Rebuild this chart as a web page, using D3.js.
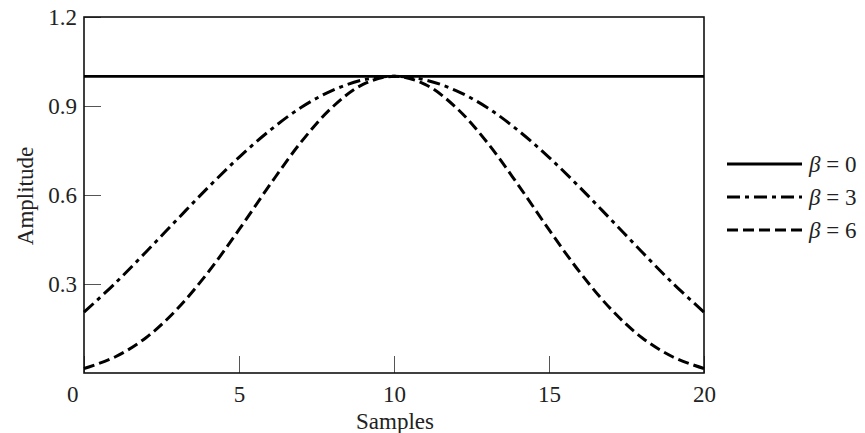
<!DOCTYPE html>
<html>
<head>
<meta charset="utf-8">
<script src="https://cdn.jsdelivr.net/npm/d3@7"></script>
<style>
  body { margin: 0; background: #fff; }
  svg text { font-family: "Liberation Serif", "DejaVu Serif", serif; fill: #222; }
</style>
</head>
<body>
<svg width="865" height="433"></svg>
<script>
// values, one per sample
let samples = d3.range(0, 21);
let beta0 = [1, 1, 1, 1, 1, 1, 1, 1, 1, 1, 1, 1, 1, 1, 1, 1, 1, 1, 1, 1, 1];
let beta3 = [0.205, 0.302, 0.408, 0.517, 0.625, 0.727, 0.818, 0.895, 0.952, 0.988, 1,
  0.988, 0.952, 0.895, 0.818, 0.727, 0.625, 0.517, 0.408, 0.302, 0.205];
let beta6 = [0.015, 0.054, 0.119, 0.215, 0.339, 0.483, 0.635, 0.778, 0.895, 0.973, 1,
  0.973, 0.895, 0.778, 0.635, 0.483, 0.339, 0.215, 0.119, 0.054, 0.015];
let xTicks = [0, 5, 10, 15, 20];
let yTicks = [0.3, 0.6, 0.9, 1.2];
let seriesNames = ["β = 0", "β = 3", "β = 6"];

let series = [
  {name: seriesNames[0], values: beta0, dash: null, width: 2.8},
  {name: seriesNames[1], values: beta3, dash: "13,5,4,5", width: 3},
  {name: seriesNames[2], values: beta6, dash: "11,5", width: 3}
];

let plotLeft = 84, plotRight = 704, plotTop = 17, plotBottom = 373;
let fontSize = "23px";
let svg = d3.select("svg");

let xScale = d3.scaleLinear().domain([0, 20]).range([plotLeft, plotRight]);
let yScale = d3.scaleLinear().domain([0, 1.2]).range([plotBottom, plotTop]);

// axes, ticks pointing inward
let xAxis = svg.append("g")
  .attr("transform", `translate(0,${plotBottom})`)
  .call(d3.axisBottom(xScale).tickValues(xTicks).tickSize(-17).tickPadding(8));
let yAxis = svg.append("g")
  .attr("transform", `translate(${plotLeft},0)`)
  .call(d3.axisLeft(yScale).tickValues(yTicks).tickFormat(d3.format(".1f")).tickSize(-17).tickPadding(7));

[xAxis, yAxis].forEach(a => {
  a.select(".domain").remove();
  a.selectAll("line").attr("stroke", "#555").attr("stroke-width", 1);
  a.selectAll("text").style("font-size", fontSize).attr("fill", "#222");
});
xAxis.selectAll("text").attr("dy", "0.9em");
// the "0" sits left of the corner
xAxis.selectAll("text").filter(d => d === 0)
  .attr("text-anchor", "end").attr("dx", "-6");

// frame
svg.append("rect")
  .attr("x", plotLeft).attr("y", plotTop)
  .attr("width", plotRight - plotLeft).attr("height", plotBottom - plotTop)
  .attr("fill", "none").attr("stroke", "#111").attr("stroke-width", 1.6);

let line = d3.line()
  .x((d, i) => xScale(samples[i]))
  .y(d => yScale(d))
  .curve(d3.curveCatmullRom);

svg.selectAll("path.curve")
  .data(series)
  .join("path")
  .attr("class", "curve")
  .attr("d", d => line(d.values))
  .attr("fill", "none")
  .attr("stroke", "#000")
  .attr("stroke-width", d => d.width)
  .attr("stroke-dasharray", d => d.dash);

// legend
let legend = svg.selectAll("g.legend")
  .data(series)
  .join("g")
  .attr("class", "legend")
  .attr("transform", (d, i) => `translate(727,${164 + i * 33})`);

legend.append("line")
  .attr("x1", 0).attr("x2", 75)
  .attr("stroke", "#000")
  .attr("stroke-width", 3)
  .attr("stroke-dasharray", d => d.dash);

legend.append("text")
  .attr("x", 82).attr("dy", "0.35em")
  .style("font-size", fontSize)
  .each(function(d) {
    let t = d3.select(this);
    t.append("tspan").style("font-style", "italic").text(d.name.slice(0, 1));
    t.append("tspan").text(d.name.slice(1));
  });

// axis titles
svg.append("text")
  .attr("x", 395).attr("y", 429)
  .attr("text-anchor", "middle")
  .style("font-size", fontSize)
  .text("Samples");

svg.append("text")
  .attr("transform", `translate(33,196) rotate(-90)`)
  .attr("text-anchor", "middle")
  .style("font-size", fontSize)
  .text("Amplitude");
</script>
</body>
</html>
